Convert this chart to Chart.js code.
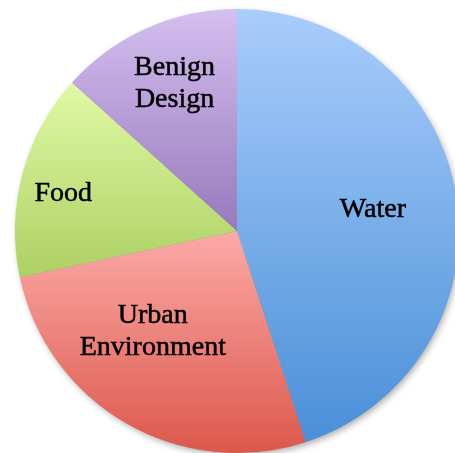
<!DOCTYPE html>
<html>
<head>
<meta charset="utf-8">
<script src="https://cdn.jsdelivr.net/npm/chart.js@4/dist/chart.umd.min.js"></script>
<style>
    html, body { margin: 0; padding: 0; background: #fff; overflow: hidden; }
    #wrap { position: absolute; left: 0; top: 0; width: 474px; height: 462px; }
</style>
</head>
<body>
<div id="wrap"><canvas id="pie"></canvas></div>
<script>
const categories = ['Water', 'Urban Environment', 'Food', 'Benign Design'];
const shares = [27, 16, 9, 8];
// light (top) and dark (bottom) end of each slice's gradient
const topColors = ['#a9cdfb', '#fbaaa8', '#e0f9a6', '#d4bfef'];
const bottomColors = ['#4a8fd8', '#dc584b', '#add063', '#9779bd'];
const labelLines = [['Water'], ['Urban', 'Environment'], ['Food'], ['Benign', 'Design']];

// vertical gradient over the extent of each slice
const sliceGradient = {
    id: 'sliceGradient',
    beforeDatasetsDraw(chart) {
        const ctx = chart.ctx;
        const arcs = chart.getDatasetMeta(0).data;
        if (!arcs.length) return;
        const c = arcs[0];
        ctx.save();
        ctx.shadowColor = 'rgba(0,0,0,0.35)';
        ctx.shadowBlur = 7;
        ctx.shadowOffsetX = 2;
        ctx.shadowOffsetY = 3;
        ctx.fillStyle = '#888';
        ctx.beginPath();
        ctx.arc(c.x, c.y, c.outerRadius - 1, 0, Math.PI * 2);
        ctx.fill();
        ctx.restore();

        arcs.forEach((arc, i) => {
            const { x, y, startAngle, endAngle, outerRadius } = arc;
            const ys = [y, y + outerRadius * Math.sin(startAngle), y + outerRadius * Math.sin(endAngle)];
            [-Math.PI / 2, Math.PI / 2, Math.PI * 1.5, Math.PI * 2.5].forEach(a => {
                if (a > startAngle && a < endAngle) ys.push(y + outerRadius * Math.sin(a));
            });
            const g = ctx.createLinearGradient(0, Math.min(...ys), 0, Math.max(...ys));
            g.addColorStop(0, topColors[i]);
            g.addColorStop(1, bottomColors[i]);
            arc.options = Object.assign({}, arc.options, { backgroundColor: g });
        });
    }
};

const sliceLabels = {
    id: 'sliceLabels',
    afterDatasetsDraw(chart, args, opts) {
        const ctx = chart.ctx;
        const arcs = chart.getDatasetMeta(0).data;
        ctx.save();
        ctx.font = '28px "Liberation Serif", serif';
        ctx.fillStyle = '#000';
        ctx.strokeStyle = '#000';
        ctx.lineWidth = 0.5;
        ctx.textAlign = 'center';
        ctx.textBaseline = 'middle';
        arcs.forEach((arc, i) => {
            const mid = (arc.startAngle + arc.endAngle) / 2 + opts.shift[i] * Math.PI / 180;
            const d = arc.outerRadius * opts.radius[i];
            const cx = arc.x + d * Math.cos(mid);
            const cy = arc.y + d * Math.sin(mid);
            const lines = labelLines[i];
            lines.forEach((line, j) => {
                const ly = cy + (j - (lines.length - 1) / 2) * opts.lineHeight;
                ctx.fillText(line, cx, ly);
                ctx.strokeText(line, cx, ly);
            });
        });
        ctx.restore();
    }
};

new Chart(document.getElementById('pie'), {
    type: 'pie',
    data: {
        labels: categories,
        datasets: [{
            data: shares,
            backgroundColor: topColors,
            borderWidth: 0
        }]
    },
    options: {
        responsive: true,
        maintainAspectRatio: false,
        animation: false,
        layout: { padding: { left: 15, right: 15, top: 9, bottom: 9 } },
        plugins: {
            legend: { display: false },
            tooltip: { enabled: false },
            sliceLabels: {
                radius: [0.62, 0.59, 0.80, 0.72],
                shift: [0, 10, -3, 1],
                lineHeight: 32
            }
        }
    },
    plugins: [sliceGradient, sliceLabels]
});
</script>
</body>
</html>
